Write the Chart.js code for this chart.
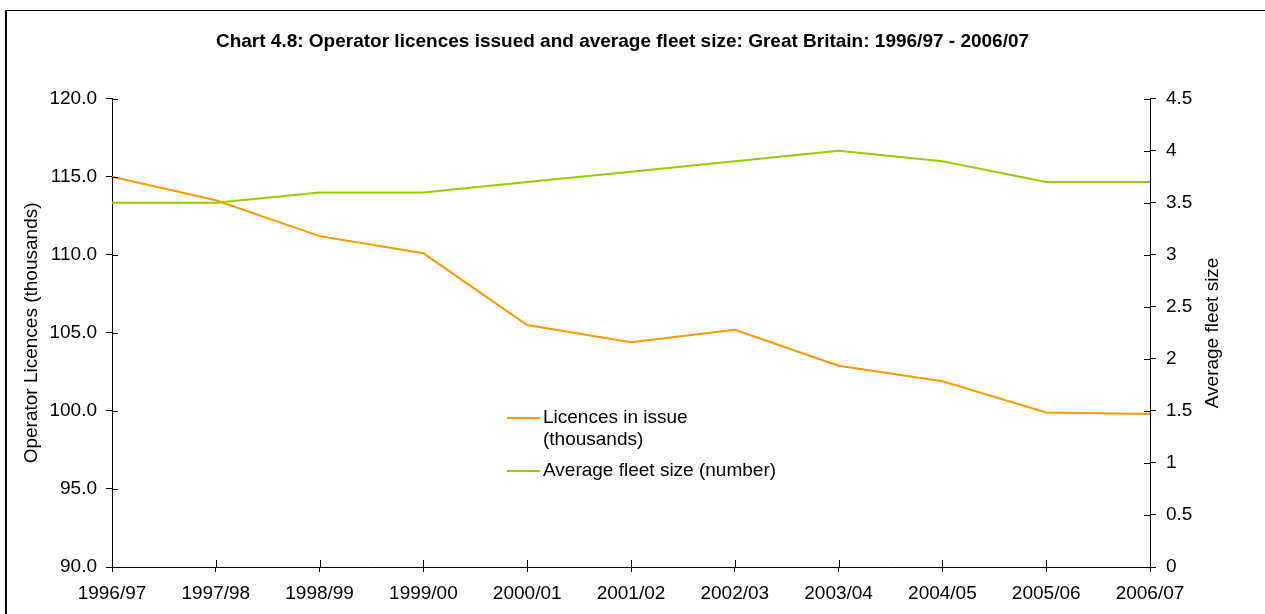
<!DOCTYPE html>
<html lang="en">
<head>
  <meta charset="UTF-8" />
  <title>Operator licences and average fleet size</title>
  <script src="https://cdn.jsdelivr.net/npm/chart.js"></script>
  <style>
    body { margin: 0; background: #fff; overflow: hidden; font-family: "Liberation Sans", Arial, sans-serif; }
    #frame {
      position: absolute; left: 5px; top: 10px; width: 1300px; height: 700px;
      border-left: 2px solid #000; border-top: 1px solid #000;
    }
    #wrap { position: absolute; left: 0; top: 0; width: 1265px; height: 614px; }
    #legend { position: absolute; left: 507px; top: 406px; font-size: 19px; color: #000; }
    .item { position: relative; padding-left: 36px; line-height: 22px; }
    .item + .item { margin-top: 9px; }
    .swatch { position: absolute; left: 0; top: 11px; width: 33px; height: 2px; }
  </style>
</head>
<body>
  <div id="frame"></div>
  <div id="wrap">
    <canvas id="fleetChart" width="1265" height="614"></canvas>
  </div>
  <div id="legend"></div>

  <script>
    const years = ["1996/97", "1997/98", "1998/99", "1999/00", "2000/01", "2001/02",
                   "2002/03", "2003/04", "2004/05", "2005/06", "2006/07"];
    const licences = [115.0, 113.5, 111.2, 110.1, 105.5, 104.4, 105.2, 102.9, 101.9, 99.9, 99.8];
    const fleetSize = [3.5, 3.5, 3.6, 3.6, 3.7, 3.8, 3.9, 4.0, 3.9, 3.7, 3.7];
    const licenceTicks = [90, 95, 100, 105, 110, 115, 120];
    const fleetTicks = [0, 0.5, 1, 1.5, 2, 2.5, 3, 3.5, 4, 4.5];
    const seriesNames = ["Licences in issue (thousands)", "Average fleet size (number)"];
    const legendLines = [["Licences in issue", "(thousands)"], ["Average fleet size (number)"]];
    const seriesColors = ["#ff9900", "#99cc00"];

    const FONT = "'Liberation Sans', Arial, sans-serif";
    const tickFont = { family: FONT, size: 19 };

    // short marks pointing into the plot so ticks cross each axis line
    const innerTicks = {
      id: "innerTicks",
      afterDraw(chart) {
        const { ctx, chartArea: a } = chart;
        const s = chart.scales;
        ctx.save();
        ctx.strokeStyle = "#000";
        ctx.lineWidth = 1;
        ctx.beginPath();
        s.x.ticks.forEach((t, i) => {
          const x = Math.round(s.x.getPixelForTick(i)) + 0.5;
          ctx.moveTo(x, a.bottom); ctx.lineTo(x, a.bottom - 7);
        });
        s.y.ticks.forEach((t, i) => {
          const y = Math.round(s.y.getPixelForTick(i)) + 0.5;
          ctx.moveTo(a.left, y); ctx.lineTo(a.left + 6, y);
        });
        s.y1.ticks.forEach((t, i) => {
          const y = Math.round(s.y1.getPixelForTick(i)) + 0.5;
          ctx.moveTo(a.right, y); ctx.lineTo(a.right - 6, y);
        });
        ctx.stroke();

        // right axis title reads bottom-to-top
        ctx.fillStyle = "#000";
        ctx.font = "19px " + FONT;
        ctx.textAlign = "center";
        ctx.textBaseline = "middle";
        ctx.translate(1213, (a.top + a.bottom) / 2);
        ctx.rotate(-Math.PI / 2);
        ctx.fillText("Average fleet size", 0, 0);
        ctx.restore();
      }
    };

    const setTicks = (values) => (scale) => { scale.ticks = values.map(v => ({ value: v })); };

    new Chart(document.getElementById("fleetChart"), {
      type: "line",
      data: {
        labels: years,
        datasets: [
          {
            label: seriesNames[0],
            data: licences,
            yAxisID: "y",
            borderColor: seriesColors[0],
            backgroundColor: seriesColors[0],
            borderWidth: 2,
            pointRadius: 0,
            tension: 0
          },
          {
            label: seriesNames[1],
            data: fleetSize,
            yAxisID: "y1",
            borderColor: seriesColors[1],
            backgroundColor: seriesColors[1],
            borderWidth: 2,
            pointRadius: 0,
            tension: 0
          }
        ]
      },
      options: {
        responsive: false,
        animation: false,
        layout: { padding: { left: 0, right: 20, top: 0, bottom: 0 } },
        plugins: {
          legend: { display: false },
          tooltip: { enabled: false },
          title: {
            display: true,
            text: "Chart 4.8: Operator licences issued and average fleet size: Great Britain: 1996/97 - 2006/07",
            color: "#000",
            font: { family: FONT, size: 19, weight: "bold", lineHeight: 1.2 },
            padding: { top: 30, bottom: 46 }
          }
        },
        scales: {
          x: {
            offset: false,
            grid: { drawOnChartArea: false, color: "#000", tickLength: 5, tickColor: "#000" },
            border: { color: "#000", width: 1 },
            ticks: { color: "#000", font: tickFont, padding: 10, maxRotation: 0, autoSkip: false },
            afterFit: (s) => { s.height = 47; }
          },
          y: {
            position: "left",
            min: licenceTicks[0],
            max: licenceTicks[licenceTicks.length - 1],
            afterBuildTicks: setTicks(licenceTicks),
            grid: { drawOnChartArea: false, color: "#000", tickLength: 6 },
            border: { color: "#000", width: 1 },
            ticks: { color: "#000", font: tickFont, padding: 9, callback: v => v.toFixed(1) },
            title: {
              display: true,
              text: "Operator Licences (thousands)",
              color: "#000",
              font: { family: FONT, size: 19, lineHeight: 1.2 },
              padding: { top: 20, bottom: 0 }
            },
            afterFit: (s) => { s.width = 112; }
          },
          y1: {
            position: "right",
            min: fleetTicks[0],
            max: fleetTicks[fleetTicks.length - 1],
            afterBuildTicks: setTicks(fleetTicks),
            grid: { drawOnChartArea: false, color: "#000", tickLength: 6 },
            border: { color: "#000", width: 1 },
            ticks: { color: "#000", font: tickFont, padding: 10, callback: v => String(v) },
            afterFit: (s) => { s.width = 95; }
          }
        }
      },
      plugins: [innerTicks]
    });

    // legend placed inside the plot, built from the series names and colours
    const legend = document.getElementById("legend");
    legendLines.forEach((lines, i) => {
      const item = document.createElement("div");
      item.className = "item";
      item.innerHTML = `<span class="swatch" style="background:${seriesColors[i]}"></span>` + lines.join("<br>");
      legend.appendChild(item);
    });
  </script>
</body>
</html>
